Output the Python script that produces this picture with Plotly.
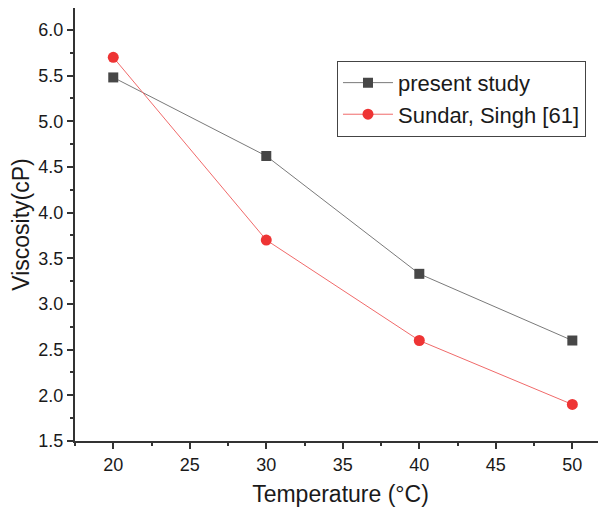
import plotly.graph_objects as go

temps = [20, 30, 40, 50]
present_study = [5.48, 4.62, 3.33, 2.60]
sundar_singh = [5.70, 3.70, 2.60, 1.90]
x_ticks = [20, 25, 30, 35, 40, 45, 50]
y_ticks = [1.5, 2.0, 2.5, 3.0, 3.5, 4.0, 4.5, 5.0, 5.5, 6.0]

FONT = "Liberation Sans, Arial, sans-serif"
AX = "#333333"

fig = go.Figure()
fig.add_trace(go.Scatter(
    x=temps, y=present_study, mode="lines+markers", name="present study",
    line=dict(color="#7a7a7a", width=1),
    marker=dict(symbol="square", size=10, color="#474747"),
))
fig.add_trace(go.Scatter(
    x=temps, y=sundar_singh, mode="lines+markers", name="Sundar, Singh [61]",
    line=dict(color="#f06a6a", width=1),
    marker=dict(symbol="circle", size=11, color="#ee3434"),
))

def axis(**kw):
    d = dict(
        showgrid=False, zeroline=False, showline=True, linecolor=AX, linewidth=2,
        ticks="outside", ticklen=6, tickwidth=1.5, tickcolor=AX,
        tickfont=dict(family=FONT, size=18, color="#1a1a1a"),
        automargin=False,
    )
    d.update(kw)
    return d

# page body has an 8px margin, so the figure is sized to fit inside the window
fig.update_layout(
    width=598, height=502,
    margin=dict(l=67, r=0, t=0, b=69),
    paper_bgcolor="white", plot_bgcolor="white",
    font=dict(family=FONT, color="#1a1a1a"),
    xaxis=axis(
        range=[17.5, 52.2], tickvals=x_ticks,
        title=dict(text="Temperature (°C)", font=dict(family=FONT, size=23), standoff=12),
        minor=dict(ticks="outside", ticklen=3, tickwidth=1.5, tickcolor=AX, dtick=2.5, tick0=17.5),
    ),
    yaxis=axis(
        range=[1.5, 6.24], tickvals=y_ticks, tickformat=".1f",
        title=dict(text="Viscosity(cP)", font=dict(family=FONT, size=23), standoff=8),
        minor=dict(ticks="outside", ticklen=3, tickwidth=1.5, tickcolor=AX, dtick=0.25, tick0=1.5),
    ),
    legend=dict(
        x=0.4934, y=0.878, xanchor="left", yanchor="top",
        bordercolor="#444444", borderwidth=1, bgcolor="white",
        font=dict(family=FONT, size=22, color="#1a1a1a"),
        tracegroupgap=0, itemwidth=50,
    ),
    showlegend=True,
)

fig.write_html("out.html")
